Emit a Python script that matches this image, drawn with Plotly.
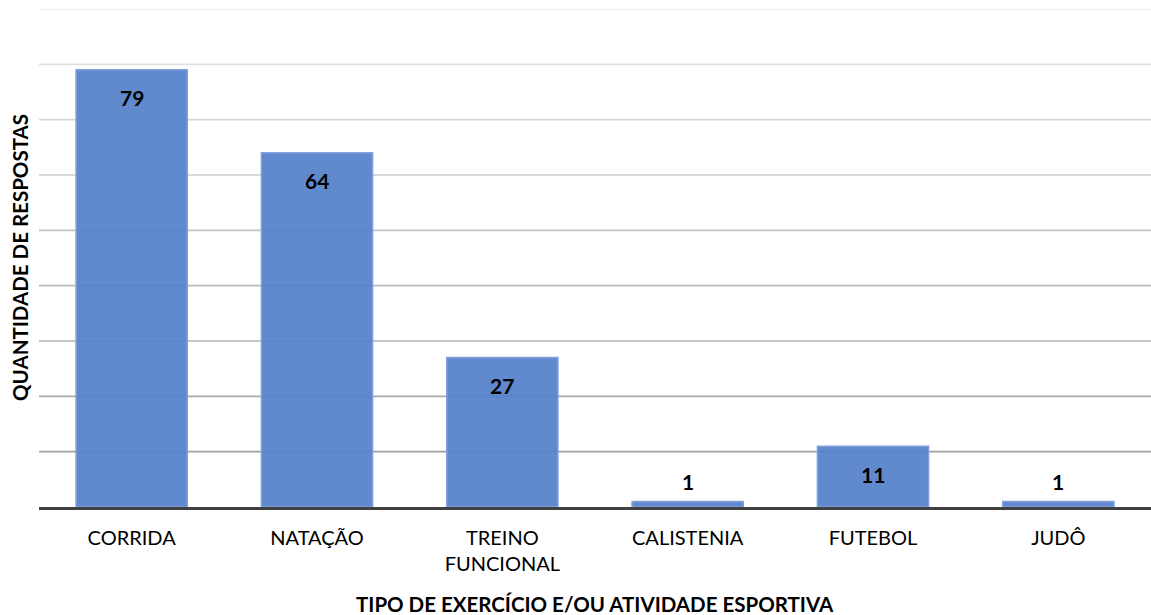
import plotly.graph_objects as go

# Respostas por tipo de exercício / atividade esportiva
categorias = ["CORRIDA", "NATAÇÃO", "TREINO<br>FUNCIONAL", "CALISTENIA", "FUTEBOL", "JUDÔ"]
respostas = [79, 64, 27, 1, 11, 1]
grade_y = [10, 20, 30, 40, 50, 60, 70, 80, 90]

FONT = "Lato, 'Open Sans', sans-serif"
BAR_COLOR = "rgba(84,128,202,0.93)"
BAR_EDGE = "rgba(130,160,220,1)"

fig = go.Figure()
fig.add_trace(go.Bar(
    x=list(range(len(categorias))),
    y=respostas,
    marker=dict(color=BAR_COLOR, line=dict(color=BAR_EDGE, width=1.5)),
    width=0.6,
    hoverinfo="skip",
))

# horizontal grid lines, fading from dark (bottom) to light (top)
shapes = []
n = len(grade_y)
for i, g in enumerate(grade_y):
    t = i / (n - 1)
    c = int(160 + (232 - 160) * t)
    shapes.append(dict(
        type="line", xref="paper", yref="y", x0=0, x1=1, y0=g, y1=g,
        line=dict(color=f"rgb({c},{c},{c})", width=1.6), layer="below",
    ))

# value labels: inside near the top for tall bars, above for short ones
annotations = []
for i, v in enumerate(respostas):
    inside = v >= 5
    annotations.append(dict(
        x=i, y=v, xref="x", yref="y", text=f"<b>{v}</b>", showarrow=False,
        yshift=-28 if inside else 20, yanchor="middle",
        font=dict(family=FONT, size=21, color="#000000"),
    ))

annotations.append(dict(
    x=0.5, y=0, xref="paper", yref="paper", yshift=-97, yanchor="middle",
    text="<b>TIPO DE EXERCÍCIO E/OU ATIVIDADE ESPORTIVA</b>", showarrow=False,
    font=dict(family=FONT, size=20.5, color="#000000"),
))
annotations.append(dict(
    x=0, y=0.5, xref="paper", yref="paper", xshift=-19, xanchor="center",
    text="<b>QUANTIDADE DE RESPOSTAS</b>", textangle=-90, showarrow=False,
    font=dict(family=FONT, size=20.5, color="#000000"),
))

fig.update_layout(
    width=1151, height=615,
    margin=dict(l=39, r=0, t=9, b=108),
    paper_bgcolor="white", plot_bgcolor="white",
    showlegend=False,
    shapes=shapes,
    annotations=annotations,
    xaxis=dict(
        tickmode="array", tickvals=list(range(len(categorias))), ticktext=categorias,
        range=[-0.5, len(categorias) - 0.5],
        showgrid=False, zeroline=False, showline=True,
        linecolor="#404040", linewidth=3, ticks="",
        ticklabelstandoff=11,
        tickfont=dict(family=FONT, size=20, color="#000000"),
        fixedrange=True,
    ),
    yaxis=dict(
        range=[0, 90], showgrid=False, zeroline=False, showticklabels=False,
        showline=False, fixedrange=True,
    ),
)

fig.write_html("out.html")
